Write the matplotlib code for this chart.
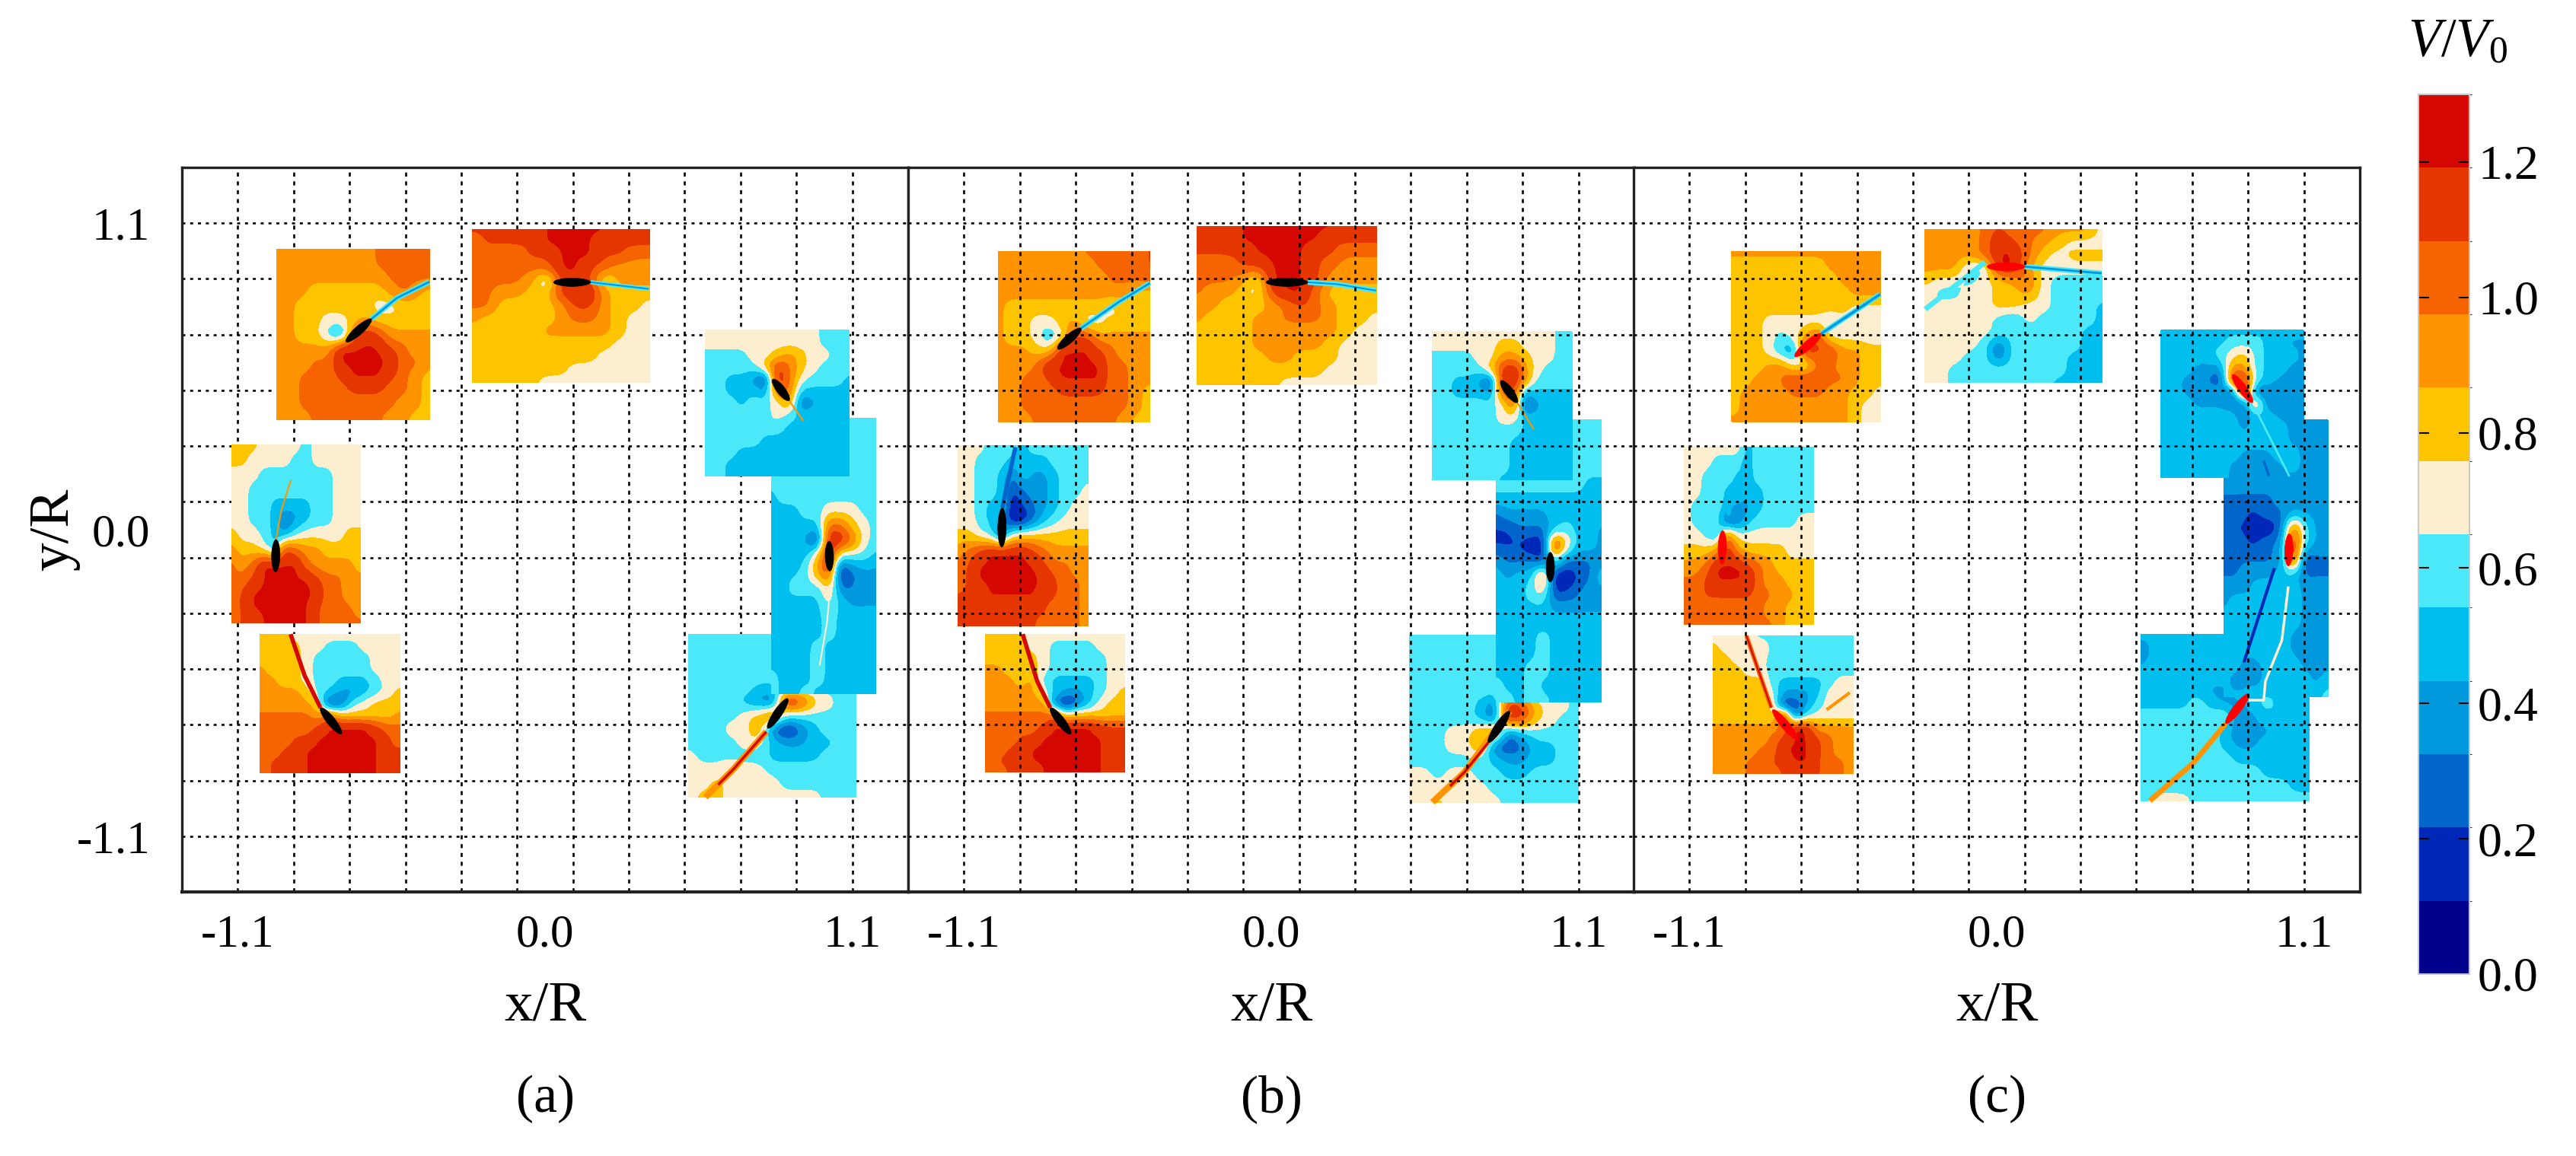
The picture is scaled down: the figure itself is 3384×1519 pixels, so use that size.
import numpy as np
import matplotlib
matplotlib.use('Agg')
import matplotlib.pyplot as plt
from matplotlib.colors import ListedColormap, BoundaryNorm
from matplotlib.cm import ScalarMappable

plt.rcParams['font.family'] = ['Liberation Serif', 'DejaVu Serif']
plt.rcParams['mathtext.fontset'] = 'custom'
plt.rcParams['mathtext.it'] = 'Liberation Serif:italic'
plt.rcParams['mathtext.rm'] = 'Liberation Serif'

W, H = 3384, 1519

band_colors = ['#00008c', '#0028b8', '#0066cc', '#0099dd', '#00bfee', '#4be8fa',
               '#fdeed0', '#ffc400', '#ff9400', '#f56400', '#e63600', '#d40800']
levels = np.linspace(0, 1.3, 13)
bar_ticks = [0.0, 0.2, 0.4, 0.6, 0.8, 1.0, 1.2]
grid_pos = [-1.1, -0.9, -0.7, -0.5, -0.3, -0.1, 0.1, 0.3, 0.5, 0.7, 0.9, 1.1]
tick_pos = [-1.1, 0.0, 1.1]
tick_labels = ['-1.1', '0.0', '1.1']

a1_v = [[9,9,9,9,9,9,9,9,10,10,10,10,10],
        [9,9,9,9,9,9,9,9,10,10,10,10,10],
        [9,9,9,9,9,9,9,9,9,10,10,10,10],
        [9,9,9,8,8,8,8,8,8,9,10,9,8],
        [9,9,8,8,8,8,8,8,7,7,8,8,8],
        [9,9,8,8,7,7,8,9,8,8,8,8,8],
        [9,9,8,8,6,4,10,12,11,9,9,9,9],
        [9,9,9,9,9,12,12,12,12,11,10,9,9],
        [9,9,9,10,10,12,12,12,12,12,10,10,9],
        [9,9,10,10,10,11,12,12,12,11,10,9,8],
        [9,9,10,10,10,10,11,11,11,10,10,9,8],
        [9,9,10,10,10,10,10,10,10,10,9,9,8],
        [9,9,9,10,10,10,10,10,10,9,9,8,8]]
a2_v = [[11,11,11,11,11,12,12,12,12,12,12,12,12],
        [10,11,11,11,11,12,12,12,12,11,11,11,11],
        [10,10,10,10,11,11,12,12,12,11,11,10,10],
        [10,10,10,10,10,10,12,12,11,10,9,9,9],
        [10,10,10,10,9,6,11,12,11,7,9,9,9],
        [10,10,9,9,8,8,11,12,12,9,8,8,8],
        [10,10,8,8,8,8,9,11,11,9,8,8,7],
        [9,8,8,8,8,8,9,10,10,9,8,7,7],
        [8,8,8,8,8,9,9,9,9,9,8,7,7],
        [8,8,8,8,8,8,8,8,8,8,7,7,7],
        [8,8,8,8,8,8,8,8,8,7,7,7,7],
        [8,8,8,8,8,8,8,7,7,7,7,7,7],
        [8,8,8,8,8,7,7,7,7,7,7,7,7]]
a3_v = [[8,8,8,7,7,7,7,6,7,7,7,7,7],
        [8,8,7,7,7,7,6,6,7,7,7,7,7],
        [7,7,7,6,6,6,6,6,6,6,7,7,7],
        [7,7,6,6,6,6,6,6,6,6,7,7,7],
        [7,7,6,6,5,5,5,5,6,6,7,7,7],
        [7,7,6,6,5,3,4,5,6,6,7,7,7],
        [8,7,7,6,5,4,6,7,7,7,7,8,8],
        [9,8,8,7,5,11,10,9,9,8,8,8,8],
        [10,9,10,12,12,12,12,10,9,9,9,9,8],
        [10,10,11,12,12,12,12,12,11,10,10,9,9],
        [10,11,12,12,12,12,12,12,12,10,10,9,9],
        [10,11,12,12,12,12,12,12,11,10,10,10,9],
        [10,11,11,12,12,12,12,12,11,10,10,10,10]]
a4_v = [[8,8,8,7,7,7,7,7,7,7,7,7,7],
        [8,8,8,8,7,7,6,6,6,7,7,7,7],
        [8,8,8,8,7,6,6,6,6,6,7,7,7],
        [9,8,8,8,7,6,6,6,6,6,7,7,7],
        [9,9,8,8,7,6,6,5,5,5,6,7,7],
        [9,9,9,9,8,6,5,4,4,5,6,7,8],
        [9,9,9,9,9,7,2,3,6,7,8,8,8],
        [10,10,10,10,10,9,10,8,8,8,8,8,9],
        [10,10,10,10,10,11,12,12,12,12,11,10,10],
        [10,10,10,11,11,12,12,12,12,12,12,11,10],
        [10,10,11,11,12,12,12,12,12,12,12,11,11],
        [10,11,11,11,12,12,12,12,12,12,12,11,11],
        [10,11,11,11,12,12,12,12,12,12,12,11,11]]
a5_v = [[7,7,7,7,7,7,7,7,7,7,6,6,6],
        [7,7,7,7,7,7,7,7,7,7,6,6,6],
        [6,6,6,6,7,7,8,9,8,7,7,6,6],
        [6,6,6,6,6,8,11,10,8,7,6,6,6],
        [6,6,5,5,4,2,12,10,7,6,6,6,5],
        [6,6,5,5,5,4,10,10,5,5,5,5,5],
        [6,6,6,5,6,6,7,9,3,4,5,5,5],
        [6,6,6,6,6,6,7,6,5,5,5,5,5],
        [6,6,6,6,6,6,6,5,5,5,5,5,5],
        [6,6,6,6,6,5,5,5,5,5,5,5,5],
        [6,6,6,5,5,5,5,5,5,5,5,5,5],
        [6,6,5,5,5,5,5,5,5,5,5,5,5],
        [6,6,5,5,5,5,5,5,5,5,5,5,5]]
a6_v = [[6,6,6,6,6,6,6,6,6,6],
        [6,6,6,6,6,6,6,6,6,6],
        [6,6,6,6,6,6,6,6,6,6],
        [6,6,6,6,6,6,6,6,6,6],
        [6,6,6,6,6,6,6,6,6,6],
        [5,6,6,6,6,6,6,6,6,6],
        [5,5,5,6,6,7,7,7,6,6],
        [5,5,5,5,5,10,10,8,7,6],
        [5,5,5,4,2,12,12,10,7,6],
        [5,5,5,5,8,12,6,6,6,5],
        [5,5,5,6,9,11,1,3,4,4],
        [5,5,6,6,6,8,3,3,4,4],
        [5,5,5,5,5,7,5,4,4,4],
        [5,5,5,5,5,6,5,5,5,5],
        [5,5,5,5,5,6,5,5,5,5],
        [5,5,5,5,6,5,5,5,5,5],
        [5,5,5,5,6,5,5,5,5,5],
        [6,5,5,5,6,5,5,5,5,5],
        [6,5,5,6,5,5,5,5,5,5]]
a7_v = [[6,6,6,6,6,6,6,6,6,6,6,6,6],
        [6,6,6,6,6,6,6,6,6,6,6,6,6],
        [6,6,6,6,6,6,6,6,6,6,6,6,6],
        [6,6,6,6,6,6,6,6,6,6,6,6,6],
        [6,6,6,6,6,5,5,6,6,6,6,6,6],
        [6,6,6,6,5,4,3,12,11,8,7,6,6],
        [6,6,6,6,7,8,10,6,6,6,6,6,6],
        [6,6,6,7,7,9,3,1,3,5,6,6,6],
        [6,6,6,6,7,7,5,4,4,5,5,6,6],
        [7,6,6,6,6,6,5,5,5,5,6,6,6],
        [7,7,7,8,7,7,6,6,6,6,6,6,6],
        [7,7,8,7,7,7,7,6,6,6,6,6,6],
        [7,8,8,7,7,7,7,7,7,7,6,6,6]]

b1_v = [[9,9,9,9,9,9,9,10,10,10,10,10,11],
        [9,9,9,9,9,9,9,9,10,10,10,10,11],
        [9,9,9,9,9,9,9,9,9,10,10,10,10],
        [9,9,9,9,9,9,9,9,9,9,9,8,8],
        [9,8,8,8,8,8,8,8,8,7,8,8,8],
        [9,8,8,7,7,8,9,7,7,8,8,8,8],
        [9,8,8,7,5,7,11,11,9,9,9,9,9],
        [9,9,9,8,8,12,12,12,11,10,9,9,9],
        [9,9,9,10,12,12,12,12,12,10,10,9,9],
        [9,9,10,10,11,12,12,12,12,10,10,9,9],
        [9,9,10,10,10,11,11,11,11,10,10,9,8],
        [9,9,10,10,10,10,10,10,10,10,10,9,8],
        [9,9,9,10,10,10,10,10,10,10,9,8,8]]
b2_v = [[11,11,11,12,12,12,12,12,12,12,12,12,12],
        [11,11,11,12,12,12,12,12,12,11,11,11,11],
        [11,11,11,11,12,12,12,12,11,11,10,10,10],
        [10,10,10,11,11,12,12,12,11,10,9,9,9],
        [10,10,10,9,7,12,12,12,11,9,9,9,9],
        [10,9,9,8,7,11,12,12,10,8,8,8,8],
        [9,9,8,8,8,9,10,11,10,9,8,8,8],
        [9,8,8,8,9,9,10,10,10,9,8,8,7],
        [8,8,8,8,9,9,9,9,9,9,8,7,7],
        [8,8,8,8,9,9,9,9,9,8,7,7,7],
        [8,8,8,8,8,9,9,8,8,8,7,7,7],
        [8,8,8,8,8,8,8,8,8,7,7,7,7],
        [8,8,8,8,8,8,7,7,7,7,7,7,7]]
b3_v = [[7,7,7,6,6,6,5,6,6,6,6,6,6],
        [7,7,6,6,6,5,5,5,5,6,6,6,6],
        [7,7,6,6,5,3,5,4,4,5,6,6,6],
        [7,7,6,6,5,2,3,4,4,5,6,6,7],
        [7,7,6,5,5,1,2,3,4,5,6,7,7],
        [7,7,6,5,4,1,1,3,5,6,7,7,7],
        [8,8,7,6,3,7,8,8,8,8,8,8,8],
        [9,10,11,12,12,12,12,11,10,9,9,9,9],
        [10,11,12,12,12,12,12,12,11,10,10,9,9],
        [10,11,12,12,12,12,12,12,12,11,10,10,9],
        [11,11,11,12,12,12,12,12,11,11,10,10,9],
        [11,11,11,11,11,11,11,11,11,10,10,10,9],
        [11,11,11,11,11,11,11,11,10,10,10,10,9]]
b4_v = [[8,8,8,8,7,7,7,7,7,7,7,7,7],
        [8,8,8,8,7,7,6,6,6,6,7,7,7],
        [8,8,8,8,8,7,6,6,6,6,6,7,7],
        [9,9,8,8,8,7,6,6,6,6,6,7,7],
        [9,9,9,8,9,6,5,5,5,5,6,7,7],
        [9,9,9,9,9,7,5,4,4,5,6,7,8],
        [9,9,9,9,9,9,3,1,3,5,7,8,8],
        [10,10,10,10,10,10,10,7,8,8,8,8,8],
        [10,10,10,10,10,11,12,12,12,12,11,11,11],
        [10,10,10,11,11,12,12,12,12,12,12,11,11],
        [10,10,11,11,12,12,12,12,12,12,12,11,11],
        [10,11,11,11,12,12,12,12,12,12,12,11,11],
        [10,10,11,11,11,12,12,12,12,12,12,11,11]]
b5_v = [[7,7,7,7,7,7,7,7,7,7,7,6,6],
        [7,7,7,7,7,7,8,8,7,7,7,6,6],
        [6,6,6,6,7,7,9,9,8,7,7,6,6],
        [6,6,6,6,6,8,11,12,9,7,6,6,6],
        [6,6,5,5,4,2,12,12,9,6,6,6,6],
        [6,6,5,5,5,4,10,11,4,5,5,5,5],
        [6,6,6,6,6,6,7,10,2,4,5,5,5],
        [6,6,6,6,6,6,7,7,5,5,5,5,5],
        [6,6,6,6,6,6,6,6,5,5,5,5,5],
        [6,6,6,6,6,6,6,5,5,5,5,5,5],
        [6,6,6,6,6,6,6,5,5,5,5,5,5],
        [6,6,6,6,6,6,6,5,5,5,5,5,5],
        [6,6,6,6,6,6,5,5,5,5,5,5,5]]
b6_v = [[6,6,6,6,6,6,6,6,6,6],
        [6,6,6,6,6,6,6,6,6,6],
        [6,6,6,6,6,6,6,6,6,6],
        [6,6,6,6,6,6,6,6,6,6],
        [6,6,6,6,6,6,6,6,5,5],
        [5,5,5,5,5,5,5,5,5,5],
        [3,4,4,4,4,5,5,5,5,5],
        [2,2,3,3,3,5,6,5,5,4],
        [2,2,2,1,1,12,8,5,5,4],
        [4,3,3,3,2,6,3,3,3,4],
        [5,4,5,5,10,1,1,2,3,5],
        [5,5,5,6,7,2,2,3,4,4],
        [5,5,5,5,5,4,4,4,4,4],
        [5,5,5,5,5,5,5,5,5,5],
        [5,5,5,5,6,5,5,5,5,5],
        [5,5,5,5,6,5,5,5,5,5],
        [5,5,5,6,6,5,5,5,5,5],
        [6,5,5,6,5,5,5,5,5,5],
        [6,6,5,6,6,5,5,5,5,5]]
b7_v = [[6,6,6,6,6,6,6,6,6,6,6,6,6],
        [6,6,6,6,6,6,6,6,6,6,6,6,6],
        [6,6,6,6,6,6,6,6,6,6,6,6,6],
        [6,6,6,6,6,6,6,6,6,6,6,6,6],
        [6,6,6,6,6,6,6,6,6,6,6,6,6],
        [6,6,6,6,6,5,3,12,11,8,7,7,6],
        [6,6,6,6,6,5,3,12,11,8,7,6,6],
        [6,6,6,7,7,9,10,3,5,6,6,6,6],
        [6,6,6,7,7,9,3,2,3,5,5,6,6],
        [6,6,6,6,6,6,5,4,4,5,5,6,6],
        [7,7,6,7,7,6,6,5,5,6,6,6,6],
        [7,7,7,7,7,7,6,6,6,6,6,6,6],
        [7,7,8,7,7,7,7,6,6,6,6,6,6]]

c1_v = [[9,9,9,9,9,9,9,9,9,9,9,9,9],
        [8,8,8,8,8,8,8,8,9,9,9,9,9],
        [8,8,8,8,8,8,8,8,8,9,9,9,9],
        [8,8,8,8,8,8,8,8,8,8,9,9,9],
        [8,8,8,8,8,8,8,8,8,8,7,7,7],
        [8,8,8,7,7,7,7,7,6,7,7,7,7],
        [8,8,8,7,6,7,9,11,7,7,7,7,7],
        [8,8,8,7,5,4,12,11,11,9,9,8,8],
        [8,8,8,9,9,7,7,10,10,9,9,8,8],
        [8,8,9,9,10,11,11,11,10,10,9,8,8],
        [8,9,9,9,9,10,10,10,9,9,8,8,7],
        [8,9,9,9,9,9,9,9,9,9,8,7,7],
        [9,9,9,9,9,9,9,9,9,9,8,7,7]]
c2_v = [[9,9,9,9,10,11,10,10,10,9,9,9,7],
        [9,9,9,9,10,12,11,10,9,8,7,7,7],
        [9,9,9,9,10,12,12,10,8,7,8,8,8],
        [9,9,9,6,6,12,12,9,7,7,7,7,7],
        [8,7,7,6,7,8,9,10,7,6,6,6,6],
        [7,6,6,7,7,8,8,9,7,6,6,6,6],
        [7,7,7,7,7,8,8,7,7,6,6,6,5],
        [7,7,7,7,7,6,5,7,6,6,6,6,5],
        [7,7,7,7,7,6,6,6,6,6,6,5,5],
        [7,7,7,7,6,3,6,6,6,6,6,5,5],
        [7,7,7,6,6,3,6,6,6,6,5,5,5],
        [7,7,6,6,6,6,6,6,6,6,5,5,5],
        [7,7,6,6,6,6,6,6,6,5,5,5,5]]
c3_v = [[7,7,7,7,7,7,5,6,6,6,6,6,6],
        [7,7,7,6,6,6,5,6,6,6,6,6,6],
        [7,7,6,6,6,5,5,6,6,6,6,6,6],
        [7,7,6,6,5,5,5,5,6,6,6,6,6],
        [7,6,6,6,5,4,4,5,6,6,6,6,6],
        [7,6,6,6,2,3,5,6,6,6,6,7,7],
        [7,7,6,5,10,7,7,7,7,7,7,7,7],
        [8,8,8,9,12,9,8,8,8,8,7,7,7],
        [9,9,10,12,12,12,11,10,9,8,8,8,8],
        [10,10,11,12,12,12,12,10,9,9,8,8,8],
        [10,10,11,11,11,11,11,10,10,9,9,8,8],
        [10,10,10,10,10,10,10,10,9,9,8,8,8],
        [10,10,10,10,10,10,10,10,10,9,8,8,8]]
c4_v = [[7,7,7,7,6,6,6,6,6,6,6,6,6],
        [8,7,7,7,8,6,6,6,6,6,6,6,6],
        [8,8,7,7,7,6,6,6,6,6,6,6,6],
        [8,8,8,7,7,6,6,6,6,6,6,6,6],
        [8,8,8,8,8,6,5,5,5,5,6,7,7],
        [8,8,8,8,8,7,4,4,4,5,7,7,7],
        [8,8,8,8,8,8,2,2,4,6,7,8,7],
        [8,8,8,8,8,7,12,3,6,7,7,7,7],
        [9,9,9,9,9,9,10,12,12,9,9,9,9],
        [9,9,9,9,9,10,11,12,12,11,10,9,9],
        [9,9,9,9,10,10,12,12,12,11,10,9,9],
        [9,9,9,10,10,11,11,12,12,11,10,10,9],
        [9,9,9,10,10,10,11,11,11,11,10,10,9]]
c5_v = [[5,5,5,5,5,5,5,5,5,5,5,5,5],
        [5,5,5,5,5,5,6,6,6,5,5,4,4],
        [5,5,5,5,5,6,7,8,6,5,5,5,4],
        [5,5,5,4,4,4,9,9,6,5,5,4,4],
        [5,5,4,4,3,2,11,12,6,5,4,4,4],
        [5,5,4,4,4,4,3,12,3,3,4,4,4],
        [5,5,5,4,4,4,3,3,9,3,4,4,4],
        [5,5,5,5,5,5,5,3,5,5,4,4,4],
        [5,5,5,5,5,5,5,4,5,5,5,4,4],
        [5,5,5,5,5,5,5,5,5,5,5,4,4],
        [5,5,5,5,5,5,5,4,4,4,5,5,4],
        [5,5,5,5,5,5,4,4,4,4,4,5,4],
        [5,5,5,5,5,5,4,4,4,4,4,4,4]]
c6_v = [[4,4,4,4,4,4,4,4,4,4],
        [4,4,4,4,4,4,4,4,4,4],
        [4,4,4,4,4,4,4,4,4,4],
        [4,4,4,4,4,4,4,4,4,4],
        [4,4,4,4,4,4,4,4,4,4],
        [3,3,3,3,3,4,4,4,4,4],
        [3,3,2,2,3,3,4,4,4,4],
        [2,2,2,2,1,3,10,6,4,4],
        [3,3,2,2,3,4,12,6,4,4],
        [3,3,3,3,3,4,12,2,3,3],
        [3,3,4,4,4,5,5,3,3,3],
        [4,4,4,5,5,5,5,4,4,4],
        [4,5,5,5,5,5,5,4,4,4],
        [5,5,5,5,5,5,5,4,4,4],
        [5,5,5,5,5,5,4,4,4,4],
        [5,5,5,5,5,5,4,4,4,4],
        [5,5,3,4,5,5,5,4,4,4],
        [5,3,4,4,5,5,5,5,4,5],
        [5,5,5,5,5,5,5,5,5,6]]
c7_v = [[5,5,5,5,5,5,5,5,5,5,5,5,5],
        [3,5,5,5,5,5,5,5,5,5,5,5,5],
        [4,5,5,5,5,5,5,5,5,5,5,5,5],
        [5,5,5,5,5,5,5,5,5,5,5,5,5],
        [5,5,5,5,5,4,4,5,5,5,5,5,5],
        [5,5,5,5,6,5,4,4,5,6,5,5,5],
        [6,6,6,6,6,6,7,3,4,5,5,5,5],
        [6,6,6,6,6,6,5,3,4,4,5,5,5],
        [6,6,6,6,6,6,5,4,4,5,5,5,5],
        [6,6,6,6,6,6,6,5,5,5,5,5,5],
        [6,6,6,6,6,6,6,6,6,5,5,5,5],
        [6,6,6,6,6,6,6,6,6,6,6,5,5],
        [6,7,7,7,6,6,6,6,6,6,6,6,6]]

# patch bounds x0, x1, y_top, y_bottom in x/R and y/R
a_bounds = [(-0.96, -0.414, 1.005, 0.395), (-0.26, 0.373, 1.076, 0.528),
            (-1.122, -0.662, 0.305, -0.335), (-1.019, -0.52, -0.376, -0.872),
            (0.515, 1.114, -0.375, -0.96), (0.81, 1.183, 0.40, -0.589), (0.575, 1.087, 0.715, 0.193)]
b_bounds = [(-0.976, -0.434, 0.997, 0.388), (-0.264, 0.376, 1.087, 0.52),
            (-1.122, -0.657, 0.302, -0.346), (-1.022, -0.526, -0.375, -0.869),
            (0.496, 1.10, -0.38, -0.978), (0.806, 1.18, 0.393, -0.617), (0.578, 1.076, 0.71, 0.18)]
c_bounds = [(-0.948, -0.417, 0.997, 0.388), (-0.256, 0.376, 1.076, 0.528),
            (-1.117, -0.657, 0.297, -0.34), (-1.014, -0.515, -0.381, -0.875),
            (0.518, 1.117, -0.375, -0.973), (0.815, 1.185, 0.393, -0.60), (0.589, 1.098, 0.715, 0.187)]
a_values = [a1_v, a2_v, a3_v, a4_v, a7_v, a6_v, a5_v]
b_values = [b1_v, b2_v, b3_v, b4_v, b7_v, b6_v, b5_v]
c_values = [c1_v, c2_v, c3_v, c4_v, c7_v, c6_v, c5_v]

# blade chord ends as x/R, y/R
a_blades = [([-0.7125, -0.6215], [0.674, 0.756]), ([0.03, 0.163], [0.888, 0.888]),
            ([-0.963, -0.965], [-0.035, -0.152]), ([-0.804, -0.729], [-0.639, -0.733]),
            ([0.815, 0.874], [0.54, 0.463]), ([1.017, 1.019], [-0.041, -0.149]),
            ([0.869, 0.797], [-0.606, -0.713])]
b_blades = [([-0.765, -0.681], [0.648, 0.723]), ([-0.019, 0.131], [0.888, 0.888]),
            ([-0.963, -0.965], [0.079, -0.063]), ([-0.791, -0.718], [-0.639, -0.734]),
            ([0.822, 0.881], [0.535, 0.456]), ([0.999, 0.999], [-0.081, -0.188]),
            ([0.853, 0.777], [-0.651, -0.764])]
c_blades = [([-0.723, -0.629], [0.621, 0.703]), ([-0.035, 0.101], [0.944, 0.944]),
            ([-0.981, -0.984], [-0.003, -0.124]), ([-0.802, -0.713], [-0.646, -0.754]),
            ([0.844, 0.916], [0.557, 0.456]), ([1.048, 1.044], [-0.014, -0.131]),
            ([0.902, 0.82], [-0.589, -0.696])]

# wakes: x/R, y/R, band colour index, width in points
a_wakes = [([-0.6215, -0.531, -0.415], [0.756, 0.831, 0.889], 5, 5), ([-0.6215, -0.531, -0.415], [0.756, 0.831, 0.889], 3, 2),
           ([0.163, 0.372], [0.888, 0.864], 5, 4), ([0.163, 0.372], [0.888, 0.864], 3, 1.5),
           ([-0.91, -0.944, -0.963], [0.178, 0.07, -0.035], 8, 1.5),
           ([-0.911, -0.861, -0.804], [-0.375, -0.523, -0.639], 11, 4),
           ([0.874, 0.924], [0.463, 0.391], 8, 1.5),
           ([1.021, 1.01, 0.983], [-0.205, -0.33, -0.488], 6, 1.5),
           ([0.792, 0.674, 0.574], [-0.725, -0.86, -0.96], 8, 6), ([0.792, 0.674, 0.62], [-0.725, -0.86, -0.915], 11, 2.5)]
b_wakes = [([-0.681, -0.546, -0.434], [0.723, 0.817, 0.885], 5, 5), ([-0.681, -0.546, -0.434], [0.723, 0.817, 0.885], 3, 2),
           ([0.131, 0.236, 0.376], [0.888, 0.881, 0.858], 5, 5), ([0.131, 0.236, 0.376], [0.888, 0.881, 0.858], 3, 1.5),
           ([-0.916, -0.963], [0.296, 0.079], 2, 4),
           ([-0.89, -0.838, -0.791], [-0.375, -0.544, -0.639], 11, 4),
           ([0.881, 0.94], [0.456, 0.36], 8, 1.5),
           ([0.853, 0.69, 0.577], [-0.651, -0.872, -0.978], 8, 6), ([0.777, 0.69, 0.64], [-0.764, -0.872, -0.92], 11, 2.5)]
c_wakes = [([-0.629, -0.417], [0.703, 0.845], 5, 5), ([-0.629, -0.417], [0.703, 0.845], 3, 2.5),
           ([0.101, 0.376], [0.944, 0.92], 5, 5), ([0.101, 0.376], [0.944, 0.92], 3, 2),
           ([-0.041, -0.256], [0.96, 0.791], 5, 5),
           ([-0.963, -0.886], [0.052, 0.296], 4, 4),
           ([-0.896, -0.807], [-0.381, -0.639], 9, 4), ([-0.896, -0.807], [-0.381, -0.639], 11, 1.5),
           ([-0.609, -0.526], [-0.646, -0.585], 8, 3),
           ([0.929, 1.048], [0.428, 0.191], 5, 2), ([0.956, 0.975], [0.247, 0.191], 2, 2.5),
           ([1.044, 1.021, 0.962, 0.956, 0.902], [-0.204, -0.397, -0.544, -0.612, -0.612], 6, 2.5),
           ([0.994, 0.885], [-0.138, -0.476], 1, 3),
           ([0.82, 0.703, 0.548], [-0.696, -0.838, -0.973], 8, 5)]


def soften(v, factor=10, box=11):
    # bilinear upsample then a box filter, keeps the contours from stepping on the grid
    ny, nx = v.shape
    ii = np.linspace(0, ny - 1, (ny - 1) * factor + 1)
    jj = np.linspace(0, nx - 1, (nx - 1) * factor + 1)
    fine = np.array([np.interp(jj, np.arange(nx), row) for row in v])
    fine = np.array([np.interp(ii, np.arange(ny), col) for col in fine.T]).T
    kernel = np.ones(box) / box
    pad = box // 2
    padded = np.pad(fine, pad, mode='edge')
    padded = np.apply_along_axis(lambda r: np.convolve(r, kernel, mode='same'), 0, padded)
    padded = np.apply_along_axis(lambda r: np.convolve(r, kernel, mode='same'), 1, padded)
    return padded[pad:-pad, pad:-pad]


def draw_patch(ax, bounds, values):
    v = soften(np.array(values) / 10)
    xs = np.linspace(bounds[0], bounds[1], v.shape[1])
    ys = np.linspace(bounds[2], bounds[3], v.shape[0])
    cs = ax.contourf(xs, ys, np.clip(v, 0.01, 1.29), levels=levels, colors=band_colors)
    cs.set_edgecolor('face')
    cs.set_linewidth(0.3)


def draw_blade(ax, ends, color):
    # lens shape along the chord, widest in the middle
    (x0, x1), (y0, y1) = ends
    t = np.linspace(0, 1, 30)
    length = np.hypot(x1 - x0, y1 - y0)
    nx, ny = -(y1 - y0) / length, (x1 - x0) / length
    half = 0.015 * np.sqrt(np.sin(np.pi * t))
    cx, cy = x0 + (x1 - x0) * t, y0 + (y1 - y0) * t
    ax.fill(np.r_[cx + nx * half, (cx - nx * half)[::-1]],
            np.r_[cy + ny * half, (cy - ny * half)[::-1]], color=color, lw=0.5, zorder=2)


def draw_panel(ax, bounds, values, wakes, blades, blade_color, below):
    ax.set_xlim(-1.3, 1.3)
    ax.set_ylim(-1.3, 1.3)
    ax.set_xticks(tick_pos)
    ax.set_xticklabels(tick_labels, fontsize=44)
    ax.set_yticks(tick_pos)
    ax.set_xticks(grid_pos, minor=True)
    ax.set_yticks(grid_pos, minor=True)
    ax.xaxis.remove_overlapping_locs = False
    ax.yaxis.remove_overlapping_locs = False
    ax.tick_params(which='both', length=0)
    ax.tick_params(axis='x', pad=21)
    ax.set_axisbelow(below)
    ax.grid(True, which='minor', axis='x', color='black', lw=1.9, ls=(0, (2, 2.4)))
    ax.grid(True, which='minor', axis='y', color='black', lw=1.9, ls=(0, (1.5, 2.4)))
    for b, v in zip(bounds, values):
        draw_patch(ax, b, v)
    for xs, ys, c, lw in wakes:
        ax.plot(xs, ys, color=band_colors[c], lw=lw, solid_capstyle='butt')
    for ends in blades:
        draw_blade(ax, ends, blade_color)
    for s in ax.spines.values():
        s.set_linewidth(2.4)
        s.set_color('#222222')
    ax.spines['bottom'].set_linewidth(3)


fig = plt.figure(figsize=(W / 100, H / 100), dpi=100)
lefts = [239, 1193, 2146]
axes = []
for left in lefts:
    axes.append(fig.add_axes([left / W, 1 - 1172 / H, 954 / W, 952 / H]))

draw_panel(axes[0], a_bounds, a_values, a_wakes, a_blades, 'black', True)
draw_panel(axes[1], b_bounds, b_values, b_wakes, b_blades, 'black', False)
draw_panel(axes[2], c_bounds, c_values, c_wakes, c_blades, '#ff0000', False)

axes[0].set_yticklabels(tick_labels, fontsize=44)
axes[1].set_yticklabels([])
axes[2].set_yticklabels([])
axes[0].tick_params(axis='y', pad=30)

for ax, name in zip(axes, ['(a)', '(b)', '(c)']):
    ax.text(0.5, -(1323 - 1172) / 952, 'x/R', transform=ax.transAxes, ha='center', va='center', fontsize=54)
    ax.text(0.5, -(1444 - 1172) / 952, name, transform=ax.transAxes, ha='center', va='center', fontsize=50)
axes[0].text(-(239 - 71) / 954, 0.5, 'y/R', transform=axes[0].transAxes, rotation=90,
             ha='center', va='center', fontsize=54)

cax = fig.add_axes([3177 / W, 1 - 1280 / H, 67 / W, 1156 / H])
cmap = ListedColormap(band_colors)
norm = BoundaryNorm(levels, cmap.N)
cb = fig.colorbar(ScalarMappable(norm=norm, cmap=cmap), cax=cax, spacing='proportional', ticks=bar_ticks)
cb.set_ticklabels(['%.1f' % t for t in bar_ticks])
cb.ax.tick_params(labelsize=46, length=0, pad=8)
cb.outline.set_edgecolor('#c8c8c8')
cb.outline.set_linewidth(1.5)
for t in bar_ticks[1:]:
    cax.plot([0, 0.2], [t, t], color='black', lw=1.5, transform=cax.get_yaxis_transform())
    cax.plot([0.8, 1], [t, t], color='black', lw=1.5, transform=cax.get_yaxis_transform())
fig.text(3229 / W, 1 - 56 / H, '$V/V_0$', ha='center', va='center', fontsize=51)

fig.savefig('out.png', dpi=100)
